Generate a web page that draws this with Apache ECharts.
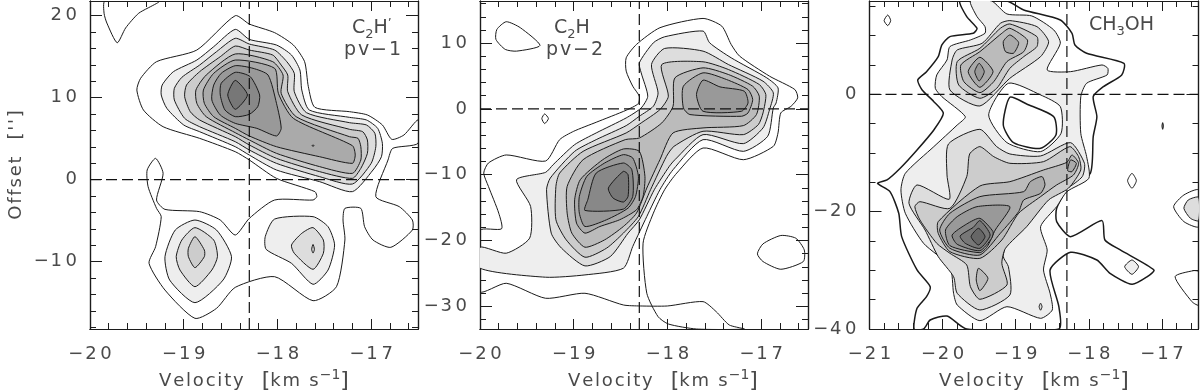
<!DOCTYPE html>
<html><head><meta charset="utf-8">
<style>html,body{margin:0;padding:0;background:#fff}#c{width:1200px;height:392px}</style>
<script src="https://cdn.jsdelivr.net/npm/echarts@6/dist/echarts.min.js"></script>
</head><body><div id="c"></div>
<script>
// ---------- axis ranges and ticks ----------
const p1XRange=[-20,-16.5], p1YRange=[-18.21,21.79];
const p2XRange=[-20,-16.5], p2YRange=[-33.45,16.4];
const p3XRange=[-21,-16.5], p3YRange=[-40,15.9];
const p1XMajor=[-20,-19,-18,-17];
const p1XMinor=[-19.8,-19.6,-19.4,-19.2,-18.8,-18.6,-18.4,-18.2,-17.8,-17.6,-17.4,-17.2,-16.8,-16.6];
const p1YMajor=[-10,0,10,20];
const p1YMinor=[-18,-16,-14,-12,-8,-6,-4,-2,2,4,6,8,12,14,16,18];
const p2XMajor=[-20,-19,-18,-17];
const p2XMinor=p1XMinor;
const p2YMajor=[-30,-20,-10,0,10];
const p2YMinor=[-32,-28,-26,-24,-22,-18,-16,-14,-12,-8,-6,-4,-2,2,4,6,8,12,14,16];
const p3XMajor=[-21,-20,-19,-18,-17];
const p3XMinor=[-20.8,-20.6,-20.4,-20.2,-19.8,-19.6,-19.4,-19.2,-18.8,-18.6,-18.4,-18.2,-17.8,-17.6,-17.4,-17.2,-16.8,-16.6];
const p3YMajor=[-40,-20,0];
const p3YMinor=[-35,-30,-25,-15,-10,-5,5,10,15];
const refVelocity=-18.3, refOffset=0;

// ---------- contour levels: gray of each filled band ----------
const levelGray=['none','#eeeeee','#dddddd','#cccccc','#bbbbbb','#aaaaaa','#999999','#888888','#777777','#666666'];

// ---------- panel 1: C2H pv-1 ----------
const p1_L1=[[-16.5,7.28],[-16.65,5.45],[-16.78,4.92],[-16.88,6.67],[-17.04,7.89],[-17.23,8.29],[-17.6,8.82],[-17.67,11.34],[-17.71,14.39],[-17.83,16.42],[-18.03,17.93],[-18.3,18.98],[-18.45,20],[-18.86,15.81],[-19.29,14.39],[-19.46,12.36],[-19.5,10.93],[-19.43,8.5],[-19.22,6.46],[-18.83,5.04],[-18.45,3.41],[-18.3,2.4],[-18.01,0.16],[-17.6,-1.46],[-17.58,-2.07],[-17.62,-2.48],[-18.03,-2.48],[-18.3,-4.72],[-18.45,-6.75],[-18.61,-4.92],[-18.83,-3.9],[-19.2,-3.62],[-19.29,-2.48],[-19.22,0.77],[-19.3,2.6],[-19.39,1.18],[-19.38,-0.85],[-19.29,-3.5],[-19.24,-4.51],[-19.3,-8.17],[-19.37,-10.2],[-19.2,-13.46],[-18.88,-16.91],[-18.65,-15.69],[-18.45,-13.13],[-18.03,-11.83],[-17.62,-14.76],[-17.37,-13.05],[-17.28,-7.36],[-17.3,-4.92],[-17.28,-3.5],[-17.11,-3.5],[-17.07,-5.73],[-16.98,-7.36],[-16.79,-8.25],[-16.56,-6.14],[-16.56,-4.92],[-16.7,-3.29],[-16.95,-2.07],[-16.82,2.4],[-16.77,3.82],[-16.5,4.43]];
const p1_corner=[[-19.84,21.79],[-19.85,20.3],[-19.82,19.1],[-19.71,16.7],[-19.62,18.5],[-19.48,20.3],[-19.26,21.79]];
const p1_L2=[[-18.45,18.33],[-18.3,17.11],[-18.01,16.42],[-17.85,15.2],[-17.76,13.37],[-17.74,10.93],[-17.66,8.5],[-17.23,7.6],[-17.05,7.28],[-16.93,6.26],[-16.88,4.43],[-16.89,2.8],[-16.98,1.18],[-17.2,-1.46],[-17.55,-0.24],[-18.01,1.18],[-18.3,3],[-18.45,4.02],[-18.83,5.85],[-19,6.67],[-19.18,8.7],[-19.24,10.33],[-19.23,11.54],[-19.11,13.17],[-18.86,14.59],[-18.68,16.22]];
const p1_L3=[[-18.45,17.24],[-18.3,16.54],[-18.03,15.81],[-17.9,14.39],[-17.82,12.97],[-17.82,10.73],[-17.69,8.17],[-17.23,6.95],[-17.05,6.67],[-16.96,5.65],[-16.95,4.02],[-17,1.99],[-17.2,-0.53],[-17.55,0.37],[-18.01,1.99],[-18.3,3.62],[-18.45,4.63],[-18.83,6.46],[-18.99,7.48],[-19.1,9.72],[-19.1,11.14],[-19.02,12.48],[-18.83,13.98],[-18.65,15.61]];
const p1_L4=[[-18.45,16.3],[-18.3,15.81],[-18.05,15.2],[-17.96,13.98],[-17.89,12.76],[-17.89,10.73],[-17.74,7.89],[-17.23,6.14],[-17.09,5.85],[-17.04,4.84],[-17.04,3.21],[-17.11,1.38],[-17.2,0.16],[-17.55,0.98],[-18.01,2.6],[-18.3,4.23],[-18.45,5.24],[-18.83,7.28],[-18.93,8.29],[-18.99,10.12],[-18.97,11.54],[-18.83,13.17],[-18.61,15]];
const p1_L5=[[-18.45,15.33],[-18.05,14.39],[-17.94,12.76],[-17.96,10.53],[-17.8,7.68],[-17.23,5.24],[-17.14,5.04],[-17.11,4.02],[-17.11,2.4],[-17.2,0.77],[-17.55,1.59],[-18.01,3.21],[-18.3,4.84],[-18.45,5.73],[-18.76,7.68],[-18.86,9.31],[-18.87,10.93],[-18.76,12.76]];
const p1_L6=[[-18.45,14.59],[-18.03,13.58],[-17.99,10.53],[-17.83,7.48],[-17.2,4.15],[-17.17,3.01],[-17.2,1.99],[-17.55,2.8],[-18.01,4.02],[-18.3,5.33],[-18.45,6.26],[-18.68,7.68],[-18.78,9.31],[-18.79,10.93],[-18.68,12.97]];
const p1_L7=[[-18.45,13.9],[-18.26,13.58],[-18.1,12.76],[-18.01,9.31],[-17.96,6.26],[-18.01,5.33],[-18.22,6.26],[-18.45,6.87],[-18.61,7.89],[-18.7,9.72],[-18.68,11.54],[-18.6,12.97]];
const p1_L8=[[-18.45,13.09],[-18.29,12.56],[-18.19,10.33],[-18.21,8.9],[-18.3,7.97],[-18.45,7.68],[-18.56,8.5],[-18.61,10.33],[-18.6,11.75]];
const p1_L9=[[-18.45,12.11],[-18.32,10.33],[-18.45,8.58],[-18.53,10.33]];
const p1_dot=[[-17.62,4.25],[-17.61,4.15],[-17.62,4.05],[-17.63,4.15]];
const p1_leftL2=[[-18.88,-4.92],[-18.65,-6.14],[-18.49,-9.39],[-18.58,-12.24],[-18.88,-15],[-19.15,-12.24],[-19.2,-9.39],[-19.09,-6.14]];
const p1_leftL3=[[-18.88,-5.85],[-18.68,-7.36],[-18.64,-9.39],[-18.7,-11.02],[-18.88,-13.05],[-19.04,-11.02],[-19.08,-9.39],[-19.02,-7.36]];
const p1_leftL4=[[-18.88,-6.95],[-18.78,-8.58],[-18.78,-9.39],[-18.88,-10.73],[-18.95,-9.39],[-18.95,-8.37]];
const p1_rightL2=[[-18.03,-4.8],[-17.62,-4.51],[-17.46,-5.73],[-17.39,-7.97],[-17.46,-11.02],[-17.62,-12.76],[-17.85,-10.2],[-18.12,-8.5],[-18.13,-6.95]];
const p1_rightL3=[[-17.62,-5.85],[-17.51,-7.36],[-17.51,-8.98],[-17.62,-10.93],[-17.82,-8.98],[-17.85,-7.97],[-17.74,-6.54]];
const p1_rightL4=[[-17.62,-7.9],[-17.605,-8.5],[-17.62,-8.95],[-17.635,-8.5]];
const p1Contours=[[p1_L1,0],[p1_corner,0],[p1_L2,1],[p1_L3,2],[p1_L4,3],[p1_L5,4],[p1_L6,5],[p1_dot,5],[p1_L7,6],[p1_L8,7],[p1_L9,8],
 [p1_leftL2,1],[p1_leftL3,2],[p1_leftL4,3],[p1_rightL2,1],[p1_rightL3,2],[p1_rightL4,3]];

// ---------- panel 2: C2H pv-2 ----------
const p2_L1=[[-20,-18.48],[-19.77,-18.22],[-19.8,-15.84],[-19.91,-11.78],[-19.96,-9.75],[-19.91,-8.22],[-19.72,-7],[-19.3,-7.92],[-19.15,-4.67],[-19,-3.4],[-18.76,-2.03],[-18.44,-0.2],[-18.31,0.81],[-18.3,1.93],[-18.37,3.45],[-18.44,5.74],[-18.44,7.77],[-18.33,9.8],[-18.08,12.34],[-17.62,13.75],[-17.42,12.58],[-17.32,9.8],[-17.23,8.02],[-16.91,4.97],[-16.64,2.94],[-16.61,1.68],[-16.68,0.41],[-16.79,-0.61],[-16.82,-3.65],[-16.87,-5.69],[-17.19,-7.72],[-17.62,-5.94],[-17.9,-9.75],[-18.03,-12.28],[-18.15,-15.84],[-18.26,-20.41],[-18.22,-28.02],[-18.1,-31.57],[-17.99,-32.69],[-17.69,-33.45],[-17.18,-33.45],[-17.34,-32.84],[-17.48,-30.81],[-17.62,-29.29],[-18,-29.95],[-18.29,-29.95],[-18.47,-29.8],[-18.88,-28.02],[-19.3,-28.78],[-19.72,-26.5],[-20,-27.77]];
const p2_blobTL=[[-19.72,13.25],[-19.57,12.34],[-19.36,9.64],[-19.61,8.78],[-19.73,9.04],[-19.83,10.56],[-19.82,12.08]];
const p2_diamond=[[-19.31,-0.76],[-19.27,-1.47],[-19.31,-2.23],[-19.34,-1.47]];
const p2_blobBR=[[-16.79,-19.24],[-16.63,-19.65],[-16.54,-21.42],[-16.55,-23.2],[-16.79,-24.37],[-16.98,-23.2],[-17.04,-22.03],[-16.98,-20.51]];
const p2_L2=[[-20,-21.02],[-19.72,-21.93],[-19.47,-19.64],[-19.46,-14.82],[-19.61,-10.76],[-19.3,-9.64],[-19.22,-8.48],[-18.99,-5.43],[-18.76,-3.65],[-18.44,-1.37],[-18.28,0.15],[-18.21,1.93],[-18.28,5.48],[-18.3,7],[-18.15,10.05],[-18.03,10.96],[-17.62,11.83],[-17.55,10.05],[-17.32,7.77],[-16.94,4.72],[-16.82,3.2],[-16.84,0.91],[-16.87,0.15],[-16.93,-4.16],[-17.19,-6.45],[-17.62,-4.67],[-17.94,-9.24],[-18.08,-12.28],[-18.22,-16.35],[-18.37,-20.91],[-18.47,-24.21],[-18.88,-25.23],[-19.3,-25.58],[-20,-24.21]];
const p2_L3=[[-18.88,-23.86],[-19.13,-21.17],[-19.24,-18.88],[-19.29,-12.28],[-19.25,-10.51],[-18.99,-6.45],[-18.76,-4.67],[-18.44,-2.54],[-18.3,-1.12],[-18.15,0.41],[-18.1,2.44],[-18.17,6.75],[-18.03,9.19],[-17.62,8.78],[-17.35,6.75],[-16.98,4.21],[-16.87,2.44],[-16.91,-0.1],[-16.98,-2.89],[-17.19,-5.28],[-17.62,-3.91],[-17.92,-7.72],[-17.98,-8.73],[-18.14,-12.28],[-18.3,-16.85],[-18.42,-18.88],[-18.61,-22.44]];
const p2_L4=[[-18.88,-22.54],[-19.08,-19.9],[-19.19,-16.85],[-19.19,-11.78],[-19.15,-9.75],[-18.9,-6.45],[-18.44,-3.65],[-18.28,-2.13],[-18.08,-0.1],[-17.99,1.93],[-18.06,6.75],[-17.62,7.16],[-17.35,5.99],[-17.02,3.71],[-16.95,2.18],[-16.98,-0.61],[-17.03,-2.39],[-17.19,-3.91],[-17.62,-3.4],[-17.93,-5.69],[-18.01,-7.21],[-18.18,-12.28],[-18.31,-16.35],[-18.47,-18.88],[-18.65,-21.17]];
const p2_L5=[[-18.88,-21.02],[-19.02,-18.88],[-19.07,-15.84],[-19.07,-11.78],[-18.9,-7.72],[-18.45,-4.67],[-18.3,-4.42],[-18.06,-2.13],[-17.94,0.41],[-17.92,4.72],[-17.62,6.24],[-17.35,5.23],[-17.09,3.45],[-17.02,1.93],[-17.05,-0.86],[-17.19,-2.54],[-17.62,-2.89],[-17.94,-3.65],[-18.08,-7.72],[-18.22,-12.03],[-18.33,-15.84],[-18.47,-17.87],[-18.67,-19.9]];
const p2_L6low=[[-18.88,-18.88],[-18.97,-17.36],[-18.99,-13.81],[-18.93,-10.76],[-18.69,-7.72],[-18.47,-6.09],[-18.3,-6.45],[-18.24,-10.25],[-18.26,-13.3],[-18.33,-15.33],[-18.51,-16.85],[-18.72,-17.87]];
const p2_L6up=[[-17.83,3.45],[-17.62,5.48],[-17.37,4.47],[-17.14,2.94],[-17.09,1.42],[-17.14,-0.61],[-17.21,-1.12],[-17.76,-0.86],[-17.83,0.15]];
const p2_L7low=[[-18.88,-17.87],[-18.94,-15.84],[-18.94,-13.3],[-18.86,-10.25],[-18.67,-8.22],[-18.47,-6.95],[-18.37,-7.46],[-18.31,-10.25],[-18.34,-13.3],[-18.42,-15.08],[-18.65,-16.85]];
const p2_L7up=[[-17.62,4.37],[-17.44,3.35],[-17.18,2.69],[-17.14,0.91],[-17.21,-0.36],[-17.62,-0.36],[-17.69,2.18]];
const p2_L8=[[-18.88,-15.43],[-18.85,-13.81],[-18.76,-9.75],[-18.47,-8.22],[-18.38,-9.24],[-18.37,-13.3],[-18.47,-15.23]];
const p2_L9=[[-18.63,-12.03],[-18.47,-9.49],[-18.42,-10],[-18.42,-13.3],[-18.47,-14.16],[-18.58,-13.55]];
const p2Contours=[[p2_L1,0],[p2_blobTL,0],[p2_diamond,0],[p2_blobBR,0],[p2_L2,1],[p2_L3,2],[p2_L4,3],[p2_L5,4],[p2_L6low,5],[p2_L6up,5],[p2_L7low,6],[p2_L7up,6],[p2_L8,7],[p2_L9,8]];

// ---------- panel 3: CH3OH ----------
const p3_L1=[[-19.76,15.9],[-19.67,13.24],[-19.53,11.25],[-19.58,10.4],[-19.9,9.83],[-20.01,8.41],[-20.06,6.42],[-20.22,3.86],[-20.34,2.44],[-20.28,0.74],[-20.12,-1.25],[-19.99,-3.24],[-20.12,-6.08],[-20.35,-9.49],[-20.58,-12.61],[-20.76,-14.6],[-20.89,-15.17],[-20.72,-16.59],[-20.6,-20.28],[-20.56,-24.26],[-20.35,-29.94],[-20.17,-32.78],[-20.22,-34.49],[-20.35,-36.48],[-20.39,-40],[-20.26,-40],[-20.17,-38.47],[-19.94,-37.79],[-19.67,-40],[-18.41,-40],[-18.41,-36.2],[-18.53,-29.94],[-18.25,-26.93],[-17.89,-28.24],[-17.71,-30.51],[-17.41,-32.39],[-17.2,-31.08],[-17.11,-29.94],[-17.57,-26.53],[-17.78,-24.83],[-17.82,-21.53],[-18.25,-24.26],[-18.44,-21.7],[-18.44,-19.43],[-18.3,-16.31],[-17.98,-13.47],[-17.94,-7.22],[-17.89,-3.81],[-17.94,-0.4],[-17.8,1.31],[-17.55,3.3],[-17.52,5.28],[-18.03,6.99],[-18.19,8.41],[-18.23,10.4],[-18.39,12.67],[-18.89,14.38],[-19.12,15.9]];
const p3_L2=[[-19.62,15.9],[-19.53,13.24],[-19.42,11.53],[-19.42,10.4],[-19.62,9.26],[-19.9,8.13],[-19.94,5.85],[-20.08,3.3],[-20.1,1.02],[-20.01,-0.4],[-19.69,-3.81],[-19.8,-5.23],[-20.12,-8.92],[-20.51,-13.47],[-20.57,-16.31],[-20.51,-20.28],[-20.26,-25.4],[-19.9,-29.38],[-19.85,-33.92],[-19.8,-35.91],[-19.49,-38.58],[-19.12,-36.2],[-18.66,-38.18],[-18.5,-36.76],[-18.53,-33.92],[-18.62,-29.94],[-18.57,-26.53],[-18.66,-22.56],[-18.44,-19.15],[-18.3,-16.59],[-18,-14.32],[-18.03,-10.63],[-18.11,-6.65],[-18.11,-0.4],[-18.03,1.88],[-17.75,3.3],[-17.74,4.43],[-17.82,5],[-18.25,3.86],[-18.57,4.15],[-18.39,8.69],[-18.48,10.97],[-18.78,13.35],[-19.12,13.69],[-19.33,15.9]];
const p3_holeL2=[[-19.1,1.88],[-18.66,-0.11],[-18.39,-2.1],[-18.38,-6.65],[-18.66,-9.77],[-19.12,-8.24],[-19.37,-3.52]];
const p3_holeL1=[[-19.08,-0.51],[-18.85,-1.65],[-18.48,-3.81],[-18.45,-6.93],[-18.66,-9.2],[-19.03,-8.24],[-19.17,-5.23]];
const p3_lowL3=[[-19.49,-5.97],[-19.92,-8.47],[-19.94,-13.75],[-19.91,-17.9],[-20.35,-15.45],[-20.46,-18.58],[-20.24,-23.13],[-20.06,-27.67],[-19.85,-31.08],[-19.8,-33.92],[-19.49,-36.76],[-19.08,-34.21],[-19.1,-29.38],[-19.17,-27.67],[-19.12,-25.4],[-18.89,-22.56],[-18.62,-17.44],[-18.3,-16.02],[-18.09,-14.03],[-18.06,-11.76],[-18.25,-8.24],[-18.66,-10.51],[-19.08,-10.17],[-19.26,-8.92]];
const p3_dotL3=[[-18.66,-35.6],[-18.64,-36.2],[-18.66,-36.8],[-18.68,-36.2]];
const p3_lowL4=[[-19.49,-8.92],[-19.63,-10.17],[-19.67,-14.03],[-19.9,-19.43],[-20.31,-18.3],[-20.38,-19.15],[-20.31,-21.42],[-20.08,-25.4],[-19.9,-27.1],[-19.67,-29.09],[-19.62,-32.78],[-19.49,-34.94],[-19.12,-32.5],[-19.19,-28.81],[-19.14,-26.25],[-18.85,-22.56],[-18.55,-18.01],[-18.28,-16.02],[-18.11,-12.9],[-18.14,-10.63],[-18.26,-8.92],[-18.62,-11.48],[-19.08,-11.76],[-19.3,-10.63]];
const p3_lowL5=[[-19.49,-15.63],[-19.08,-14.89],[-18.62,-12.9],[-18.3,-11.59],[-18.23,-10.34],[-18.14,-11.76],[-18.21,-13.75],[-18.44,-15.45],[-18.66,-17.44],[-18.96,-20.28],[-19.19,-24.83],[-19.49,-27.96],[-19.9,-26.82],[-20.06,-23.69],[-20.06,-21.7]];
const p3_islandL5=[[-19.51,-29.66],[-19.38,-31.36],[-19.49,-33.47],[-19.54,-31.65]];
const p3_lowL6=[[-19.49,-17.44],[-18.89,-16.59],[-18.8,-14.89],[-18.64,-14.03],[-18.6,-15.45],[-18.66,-16.88],[-18.89,-18.01],[-18.96,-20],[-19.21,-23.69],[-19.49,-27.39],[-19.9,-26.25],[-20.04,-23.13],[-19.9,-20.28]];
const p3_lobeL6=[[-18.25,-11.19],[-18.17,-11.76],[-18.23,-13.18],[-18.29,-13.01]];
const p3_lowL7=[[-19.53,-19.15],[-19.08,-19.15],[-19.28,-23.13],[-19.39,-25.97],[-19.49,-26.99],[-19.9,-25.8],[-19.96,-23.13],[-19.8,-20.85]];
const p3_lowL8=[[-19.87,-23.98],[-19.67,-22.1],[-19.49,-21.14],[-19.31,-23.41],[-19.33,-24.55],[-19.49,-26.65],[-19.8,-25.57]];
const p3_lowL9=[[-19.76,-24.15],[-19.58,-22.67],[-19.49,-21.53],[-19.35,-23.98],[-19.49,-26.25],[-19.69,-25.4]];
const p3_lowL10=[[-19.61,-24.26],[-19.51,-22.84],[-19.42,-24.26],[-19.51,-25.68]];
const p3_upL3=[[-19.08,12.56],[-18.71,11.53],[-18.55,8.98],[-18.66,6.42],[-19.08,2.73],[-19.49,-1.99],[-19.9,0.74],[-19.87,5.85],[-19.8,7.56],[-19.46,8.69],[-19.21,12.1]];
const p3_upL4=[[-19.08,11.99],[-18.71,9.83],[-18.71,8.13],[-18.89,6.42],[-19.08,4.43],[-19.26,1.02],[-19.49,-0.68],[-19.78,1.59],[-19.8,5.57],[-19.49,7.84],[-19.21,11.25]];
const p3_upL5=[[-19.08,11.25],[-18.84,9.26],[-18.89,7.27],[-19.12,5.57],[-19.3,2.16],[-19.49,0.28],[-19.71,2.16],[-19.75,5],[-19.49,7.27],[-19.19,10.4]];
const p3_upL6a=[[-19.49,6.31],[-19.31,3.86],[-19.49,1.19],[-19.65,3.86]];
const p3_upL6b=[[-19.08,10.11],[-18.96,8.81],[-19.03,7],[-19.14,7.27],[-19.17,8.98]];
const p3_upL7=[[-19.5,5.28],[-19.43,3.86],[-19.5,2.27],[-19.56,3.86]];
const p3_tinyTL=[[-20.75,13.52],[-20.71,12.56],[-20.75,11.7],[-20.8,12.56]];
const p3_tinyA=[[-17.41,-13.47],[-17.35,-14.72],[-17.41,-16.02],[-17.47,-14.72]];
const p3_tinyB=[[-16.99,-4.83],[-16.98,-5.4],[-16.99,-5.97],[-17,-5.4]];
const p3_spot=[[-17.41,-28.24],[-17.32,-29.38],[-17.41,-30.68],[-17.51,-29.38]];
const p3_edgeL1=[[-16.5,-16.31],[-16.7,-17.16],[-16.84,-19.15],[-16.7,-21.7],[-16.5,-22.56]];
const p3_edgeL2=[[-16.5,-17.56],[-16.64,-18.01],[-16.7,-19.43],[-16.61,-21.14],[-16.5,-21.53]];
const p3_edgeLow=[[-16.5,-30.23],[-16.57,-30.06],[-16.82,-31.08],[-16.59,-35.34],[-16.5,-35.91]];
const p3Contours=[[p3_L1,0,1.5],[p3_tinyTL,0],[p3_tinyA,0],[p3_tinyB,6],[p3_edgeL1,0],[p3_edgeLow,0],[p3_L2,1],[p3_spot,1],[p3_edgeL2,2],[p3_holeL2,-1],[p3_holeL1,-1,1.5],
 [p3_lowL3,2],[p3_dotL3,2],[p3_upL3,2],[p3_upL4,3],[p3_lowL4,3],[p3_lowL5,4],[p3_islandL5,4],[p3_upL5,4],[p3_lowL6,5],[p3_lobeL6,5],[p3_upL6a,5],[p3_upL6b,5],[p3_upL7,6],[p3_lowL7,6],[p3_lowL8,7],[p3_lowL9,8],[p3_lowL10,9]];

// ---------- text ----------
const xTitle='Velocity', xUnit='km s', xExp='\u22121', yTitle="Offset  ['']";
const FONT='DejaVu Sans', TEXT='#4a4a4a', INK='#1c1c1c';
const spaced=(s,gap)=>[...String(s)].join(gap||'\u200a');
const panels=[
 {left:90,top:1,width:328,height:328,xr:p1XRange,yr:p1YRange,xM:p1XMajor,xm:p1XMinor,yM:p1YMajor,ym:p1YMinor,contours:p1Contours,namePad:0,yName:true},
 {left:480,top:1,width:328,height:328,xr:p2XRange,yr:p2YRange,xM:p2XMajor,xm:p2XMinor,yM:p2YMajor,ym:p2YMinor,contours:p2Contours,namePad:38},
 {left:869.5,top:1,width:329,height:328,xr:p3XRange,yr:p3YRange,xM:p3XMajor,xm:p3XMinor,yM:p3YMajor,ym:p3YMinor,contours:p3Contours,namePad:0}
];
const minus=v=>{const s=String(Math.abs(v));return (v<0?'\u2212\u200a':'')+spaced(s,'\u2009');};
const grids=[],xAxes=[],yAxes=[],series=[];
panels.forEach((p,g)=>{
  grids.push({left:p.left,top:p.top,width:p.width,height:p.height,containLabel:false,outerBoundsMode:'none'});
  const line={show:true,onZero:false,lineStyle:{color:INK,width:1.2}};
  const base=(r)=>({gridIndex:g,type:'value',min:r[0],max:r[1],splitLine:{show:false},axisLine:line});
  const tick=(len,vals)=>({show:true,inside:true,length:len,customValues:vals,lineStyle:{color:INK,width:1}});
  const rich={t:{fontFamily:FONT,fontSize:18,color:TEXT,lineHeight:26},b:{fontFamily:FONT,fontSize:22,color:TEXT,lineHeight:26},s:{fontFamily:FONT,fontSize:14,color:TEXT,padding:[0,0,12,1],lineHeight:26}};
  const lbl=(vals,m)=>({show:true,customValues:vals,formatter:minus,fontFamily:FONT,fontSize:18,color:TEXT,margin:m});
  ['bottom','top'].forEach(pos=>{
    const major=pos==='bottom';
    xAxes.push(Object.assign(base(p.xr),{position:pos,axisTick:tick(10,p.xM),axisLabel:major?lbl(p.xM,16):{show:false},
      name:major?`{t|${spaced(xTitle)}\u2003}{b|[}{t|${spaced(xUnit)}}{s|${xExp}}{b|]}`:'',nameLocation:'middle',nameGap:38,nameTextStyle:{rich,padding:[0,0,0,p.namePad]}}));
    xAxes.push(Object.assign(base(p.xr),{position:pos,axisTick:tick(6,p.xm),axisLabel:{show:false}}));
  });
  ['left','right'].forEach(pos=>{
    const major=pos==='left';
    yAxes.push(Object.assign(base(p.yr),{position:pos,axisTick:tick(12,p.yM),axisLabel:major?lbl(p.yM,13):{show:false},
      name:(major&&p.yName)?spaced(yTitle):'',nameLocation:'middle',nameGap:65,nameRotate:90,nameTextStyle:{fontFamily:FONT,fontSize:18,color:TEXT}}));
    yAxes.push(Object.assign(base(p.yr),{position:pos,axisTick:tick(6,p.ym),axisLabel:{show:false}}));
  });
  const xi=g*4, yi=g*4;
  series.push({type:'custom',coordinateSystem:'cartesian2d',xAxisIndex:xi,yAxisIndex:yi,clip:true,silent:true,animation:false,
    data:p.contours.map((c,i)=>[i]),
    encode:{x:[],y:[]},
    renderItem:(params,api)=>{
      const c=p.contours[api.value(0)];
      const lvl=c[1];
      return {type:'polygon',shape:{points:c[0].map(pt=>api.coord(pt)),smooth:0.22},
        style:{fill:lvl<0?'#ffffff':(levelGray[lvl]==='none'?null:levelGray[lvl]),stroke:'#1a1a1a',lineWidth:c[2]||1}};
    }});
  series.push({type:'line',xAxisIndex:xi,yAxisIndex:yi,silent:true,animation:false,symbol:'none',
    data:[[refVelocity,p.yr[0]],[refVelocity,p.yr[1]]],lineStyle:{color:'#111',width:1.2,type:[11,5]}});
  series.push({type:'line',xAxisIndex:xi,yAxisIndex:yi,silent:true,animation:false,symbol:'none',
    data:[[p.xr[0],refOffset],[p.xr[1],refOffset]],lineStyle:{color:'#111',width:1.2,type:[11,5]}});
});
const labelRich={a:{fontFamily:FONT,fontSize:19,fill:TEXT,lineHeight:24},b:{fontFamily:FONT,fontSize:13,fill:TEXT,padding:[12,0,0,0],lineHeight:24},c:{fontFamily:FONT,fontSize:12,fill:TEXT,padding:[0,0,10,0],lineHeight:24}};
const txt=(x,y,text)=>({type:'text',left:x,top:y,z:50,style:{text,rich:labelRich,fontFamily:FONT,fontSize:19,fill:TEXT}});
const option={animation:false,backgroundColor:'#fff',grid:grids,xAxis:xAxes,yAxis:yAxes,series,
  graphic:[txt(352,16,`{a|C}{b|2}{a|H}{c|\u2019}`),txt(344,41,`{a|${spaced('pv\u22121')}}`),
           txt(554,16,`{a|C}{b|2}{a|H}`),txt(546,41,`{a|${spaced('pv\u22122')}}`),
           txt(1089,13,`{a|CH}{b|3}{a|OH}`)]};
const chart=echarts.init(document.getElementById('c'),null,{renderer:'canvas'});
chart.setOption(option);
</script></body></html>
